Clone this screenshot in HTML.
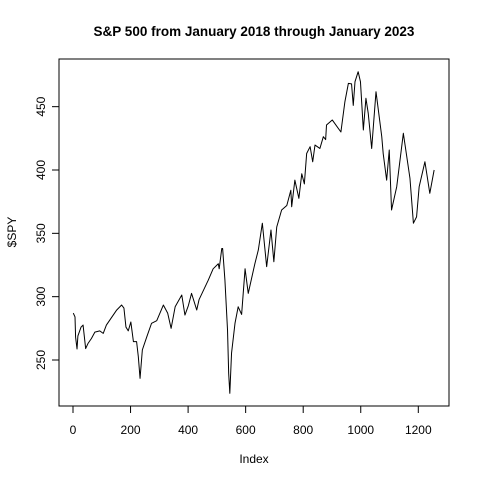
<!DOCTYPE html>
<html><head><meta charset="utf-8"><style>
body{margin:0;background:#fff}
svg text{font-family:"Liberation Sans",Arial,sans-serif;fill:#000}
</style></head><body>
<svg id="chart" width="480" height="480" xmlns="http://www.w3.org/2000/svg">
<rect width="480" height="480" fill="#fff"/>
<text x="254" y="36" font-size="13.5" font-weight="bold" text-anchor="middle">S&amp;P 500 from January 2018 through January 2023</text>
<rect x="59" y="59" width="390" height="347" fill="none" stroke="#000" stroke-width="1"/>
<g id="xaxis"></g>
<g id="yaxis"></g>
<text x="254" y="463" font-size="12" text-anchor="middle">Index</text>
<text transform="translate(16,232) rotate(-90)" font-size="12" text-anchor="middle">$SPY</text>
<path id="line" fill="none" stroke="#000" stroke-width="1" stroke-linejoin="round"/>
</svg>
<script>
const indices=[1,7,9,14,17,28,35,44,52,64,76,93,105,116,152,169,177,184,192,201,210,221,227,233,241,256,273,291,314,329,341,355,378,389,401,412,430,438,470,487,505,508,517,520,528,537,541,545,551,563,574,586,598,609,632,644,658,673,688,698,708,725,743,757,760,771,785,795,804,812,824,833,841,858,870,878,881,901,931,945,957,968,974,980,991,999,1009,1018,1026,1038,1053,1073,1078,1090,1099,1107,1125,1148,1171,1183,1194,1203,1223,1240,1255];
const prices=[287,284,268,258.7,269,276,277.6,259,263,267,272,273,271,277.6,289.5,293.4,291,276,273,280,264.5,264.5,252.6,235.5,258,268,279,281,293.4,287,275,292,301.3,285.5,293,302.6,289.5,297.6,313,322,326,322,338,338,313,273.7,239.5,223.7,255.5,279,292,286,322,302.6,326,336.8,358,323.7,352.6,327.6,355,368.4,372,384,371,392,377.6,397,389,413,418.4,406.5,419.7,417,426.3,424,435.5,439.5,430,454,468.4,468,451,469.7,477.6,469.7,431.6,456.6,444.8,417,461.8,426.3,413,392,415.8,368.4,386.8,429,393.4,358,363,386.8,406.5,381.6,400];
const xTicks=[0,200,400,600,800,1000,1200];
const yTicks=[250,300,350,400,450];
const xs=i=>73+i*0.28775;
const ys=v=>360-(v-250)*1.26667;
const NS='http://www.w3.org/2000/svg';
let d='';
for(let k=0;k<indices.length;k++){d+=(k?'L':'M')+xs(indices[k]).toFixed(2)+','+ys(prices[k]).toFixed(2);}
document.getElementById('line').setAttribute('d',d);
const xa=document.getElementById('xaxis');
xTicks.forEach(t=>{
  const l=document.createElementNS(NS,'line');
  l.setAttribute('x1',xs(t));l.setAttribute('x2',xs(t));l.setAttribute('y1',406);l.setAttribute('y2',413);l.setAttribute('stroke','#000');
  
  
  xa.appendChild(l);
  const tx=document.createElementNS(NS,'text');
  tx.setAttribute('x',xs(t));tx.setAttribute('y',434);tx.setAttribute('font-size','12');tx.setAttribute('text-anchor','middle');
  tx.textContent=t;
  
  
  xa.appendChild(tx);
});
const xl=document.createElementNS(NS,'line');
xl.setAttribute('x1',xs(0));xl.setAttribute('x2',xs(1200));xl.setAttribute('y1',406);xl.setAttribute('y2',406);xl.setAttribute('stroke','#000');


xa.appendChild(xl);
const ya=document.getElementById('yaxis');
yTicks.forEach(t=>{
  const l=document.createElementNS(NS,'line');
  l.setAttribute('x1',52);l.setAttribute('x2',59);l.setAttribute('y1',ys(t));l.setAttribute('y2',ys(t));l.setAttribute('stroke','#000');
  
  
  ya.appendChild(l);
  const tx=document.createElementNS(NS,'text');
  tx.setAttribute('transform','translate(45,'+ys(t)+') rotate(-90)');tx.setAttribute('font-size','12');tx.setAttribute('text-anchor','middle');
  tx.textContent=t;
  
  
  ya.appendChild(tx);
});
</script>
</body></html>
